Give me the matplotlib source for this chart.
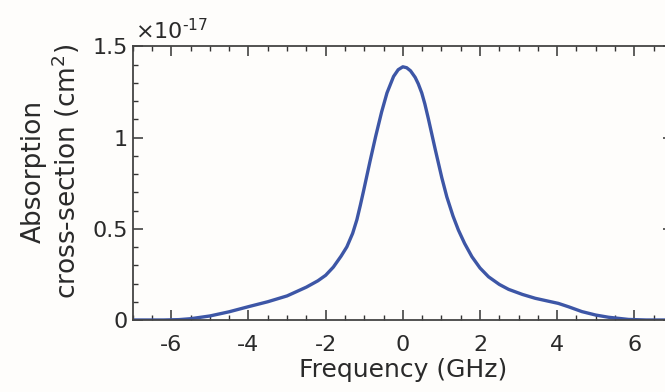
import matplotlib
matplotlib.use('Agg')
import matplotlib.pyplot as plt
from matplotlib.ticker import MultipleLocator, FuncFormatter

# Frequency detuning (GHz) and absorption cross-section (units of 1e-17 cm^2)
freq = [-7.0, -6.2, -5.8, -5.5, -5.0, -4.5, -4.0, -3.5, -3.0, -2.5, -2.2,
        -2.0, -1.8, -1.6, -1.45, -1.3, -1.19, -1.1, -1.02, -0.85, -0.70, -0.55,
        -0.41, -0.24, -0.12, 0.0, 0.10, 0.20, 0.32, 0.40, 0.49, 0.57, 0.66, 0.84,
        1.01, 1.14, 1.30, 1.44, 1.60, 1.79, 2.0, 2.22, 2.5, 2.74, 3.1, 3.43, 3.75,
        4.03, 4.3, 4.64, 5.0, 5.33, 5.85, 6.3, 7.0]
sigma = [0.0, 0.0, 0.002, 0.007, 0.022, 0.045, 0.073, 0.100, 0.132, 0.180, 0.215,
         0.245, 0.290, 0.350, 0.401, 0.475, 0.550, 0.630, 0.705, 0.870, 1.010, 1.140,
         1.245, 1.335, 1.372, 1.388, 1.383, 1.366, 1.330, 1.295, 1.245, 1.185, 1.105, 0.935,
         0.780, 0.675, 0.570, 0.493, 0.420, 0.347, 0.285, 0.237, 0.195, 0.168, 0.140, 0.119, 0.104,
         0.091, 0.072, 0.046, 0.027, 0.015, 0.003, 0.0, 0.0]

plt.rcParams['font.family'] = ['DejaVu Sans']
plt.rcParams['mathtext.fontset'] = 'dejavusans'

bg = '#fefdfb'
fig = plt.figure(figsize=(6.65, 3.92), dpi=100)
fig.patch.set_facecolor(bg)
ax = fig.add_axes([0.1995, 0.1837, 0.8125, 0.698])
ax.set_facecolor(bg)

ax.plot(freq, sigma, color='#3d56a6', linewidth=2.4, solid_capstyle='round',
        solid_joinstyle='round')

ax.set_xlim(-7, 7)
ax.set_ylim(0, 1.5)
ax.xaxis.set_major_locator(MultipleLocator(2))
ax.xaxis.set_minor_locator(MultipleLocator(0.5))
ax.yaxis.set_major_locator(MultipleLocator(0.5))
ax.yaxis.set_minor_locator(MultipleLocator(0.1))
ax.yaxis.set_major_formatter(FuncFormatter(lambda v, p: f'{v:g}'))
ax.xaxis.set_major_formatter(FuncFormatter(lambda v, p: f'{v:g}'))

ax.tick_params(which='both', direction='in', top=True, right=True,
               colors='#333333', labelcolor='#2a2a2a', labelsize=16)
ax.tick_params(which='major', length=7, width=1.1)
ax.tick_params(which='minor', length=3.5, width=1.0)
ax.tick_params(axis='x', pad=11)
ax.tick_params(axis='y', pad=3.5)
for sp in ax.spines.values():
    sp.set_color('#444444')
    sp.set_linewidth(1.3)

ax.set_xlabel('Frequency (GHz)', fontsize=18, color='#2a2a2a', labelpad=2)
ax.set_ylabel('Absorption\ncross-section (cm$^2$)', fontsize=19,
              color='#2a2a2a', linespacing=1.1)
ax.yaxis.set_label_coords(-0.093, 0.544)
ax.text(0.004, 1.026, r'$\times$10$^{\text{-}17}$', transform=ax.transAxes,
        fontsize=16, color='#2a2a2a', ha='left', va='baseline')

fig.savefig('out.png', dpi=100, facecolor=fig.get_facecolor())
